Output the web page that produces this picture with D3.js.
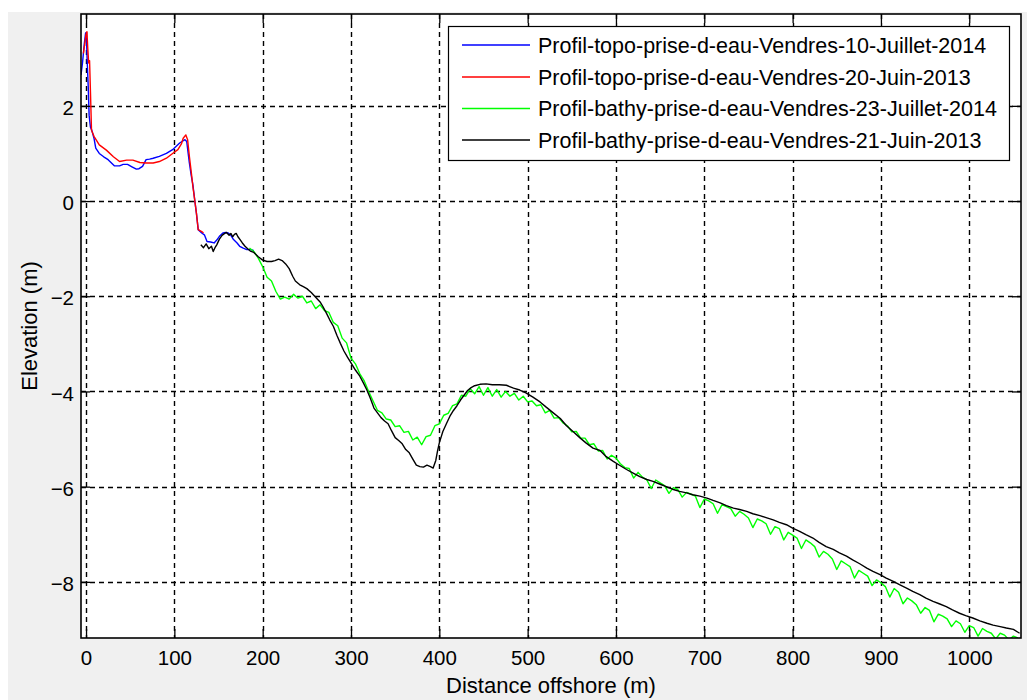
<!DOCTYPE html>
<html>
<head>
<meta charset="utf-8">
<script src="https://cdn.jsdelivr.net/npm/d3@7"></script>
<style>
  html, body { margin: 0; padding: 0; background: #ffffff; }
  svg { display: block; }
</style>
</head>
<body>
<svg id="chart" width="1027" height="700"></svg>
<script>
// ---------------- DATA ----------------
const seriesNames = [
  "Profil-topo-prise-d-eau-Vendres-10-Juillet-2014",
  "Profil-topo-prise-d-eau-Vendres-20-Juin-2013",
  "Profil-bathy-prise-d-eau-Vendres-23-Juillet-2014",
  "Profil-bathy-prise-d-eau-Vendres-21-Juin-2013"
];
const seriesColors = ["#0000ff", "#ff0000", "#00ff00", "#000000"];

const xTicks = [0, 100, 200, 300, 400, 500, 600, 700, 800, 900, 1000];
const yTicks = [2, 0, -2, -4, -6, -8];
const xLabel = "Distance offshore (m)";
const yLabel = "Elevation (m)";

// Topo 2014 (blue)
const topo2014X = [-5.7, -4, -2, -0.5, 0.5, 1.5, 2.5, 3.5, 5, 6.5, 9, 11, 15, 20, 25, 32, 38, 42, 47, 52, 57, 60, 64, 68, 72, 76, 83, 91, 98, 106, 112, 114, 117, 119, 121, 123, 125, 127, 131, 134, 137, 141, 145, 148, 151, 155, 158, 161, 164, 167, 171, 174, 178, 182, 187, 190];
const topo2014Y = [2.65, 2.9, 3.3, 3.53, 3.4, 2.85, 2.4, 1.8, 1.55, 1.49, 1.32, 1.11, 1.0, 0.93, 0.87, 0.74, 0.74, 0.77, 0.77, 0.72, 0.67, 0.68, 0.73, 0.87, 0.88, 0.9, 0.94, 1.0, 1.08, 1.22, 1.29, 1.25, 0.8, 0.55, 0.34, 0.03, -0.26, -0.6, -0.67, -0.71, -0.85, -0.86, -0.88, -0.82, -0.74, -0.67, -0.66, -0.67, -0.72, -0.81, -0.88, -0.95, -0.99, -1.02, -1.02, -1.04];

// Topo 2013 (red)
const topo2013X = [-3, -1.5, 0, 1, 2, 3, 4, 5, 6.2, 9, 15, 23, 31, 38, 46, 53, 61, 68, 76, 83, 91, 98, 104, 108, 110, 113, 115, 117, 119.5, 121, 123, 125, 127, 129, 131, 133];
const topo2013Y = [3.1, 3.3, 3.5, 3.56, 3.2, 2.9, 2.95, 2.3, 1.49, 1.36, 1.18, 1.07, 0.93, 0.83, 0.86, 0.86, 0.81, 0.80, 0.80, 0.83, 0.9, 1.0, 1.08, 1.2, 1.32, 1.39, 1.29, 0.94, 0.55, 0.3, 0.03, -0.26, -0.6, -0.62, -0.64, -0.67];

// Bathy 2014 (green) sampled every 5 m from 185 m
const bathy2014Start = 185;
const bathy2014Step = 5;
const bathy2014Y = [
  -0.99,-1.06,-1.20,-1.38,-1.60,-1.68,-1.90,-2.06,-2.02,-2.06,
  -1.96,-2.04,-2.00,-2.14,-2.10,-2.26,-2.18,-2.30,-2.34,-2.55,
  -2.62,-2.88,-2.98,-3.30,-3.42,-3.63,-3.78,-4.00,-4.20,-4.40,
  -4.45,-4.58,-4.60,-4.74,-4.72,-4.86,-4.84,-5.02,-4.96,-5.12,
  -4.95,-4.92,-4.72,-4.68,-4.50,-4.46,-4.30,-4.26,-4.08,-4.10,
  -3.94,-4.05,-3.90,-4.08,-3.92,-4.10,-3.96,-4.12,-4.00,-4.10,
  -4.04,-4.18,-4.10,-4.22,-4.20,-4.30,-4.28,-4.45,-4.40,-4.56,
  -4.55,-4.66,-4.72,-4.85,-4.84,-4.98,-4.98,-5.12,-5.10,-5.25,
  -5.24,-5.42,-5.34,-5.40,-5.52,-5.60,-5.62,-5.82,-5.70,-5.80,
  -5.86,-6.04,-5.86,-5.92,-5.98,-6.14,-6.02,-6.06,-6.22,-6.12,
  -6.16,-6.20,-6.44,-6.26,-6.30,-6.36,-6.56,-6.38,-6.42,-6.46,
  -6.62,-6.52,-6.58,-6.66,-6.86,-6.68,-6.72,-6.78,-7.00,-6.84,
  -6.88,-7.12,-6.96,-7.02,-7.08,-7.30,-7.12,-7.18,-7.26,-7.48,
  -7.36,-7.42,-7.52,-7.74,-7.56,-7.62,-7.68,-7.92,-7.76,-7.82,
  -7.88,-8.08,-7.96,-8.02,-8.10,-8.32,-8.14,-8.22,-8.46,-8.34,
  -8.40,-8.48,-8.66,-8.54,-8.60,-8.84,-8.68,-8.72,-8.78,-8.94,
  -8.82,-8.88,-9.06,-8.92,-8.96,-9.14,-8.98,-9.04,-9.08,-9.20,
  -9.08,-9.12,-9.22,-9.14,-9.18
];

// Bathy 2013 (black)
const bathy2013X = [130,133,136,139,142,144,146,148,151,154,157,159,162,164,166,168,170,172,174,177,180,183,186,190,195,200,205,210,214,218,222,226,230,234,237,242,246,250,255,260,265,268,272,276,280,284,288,292,296,300,305,310,314,318,322,326,330,334,338,342,346,350,354,358,362,366,370,374,378,382,386,390,393,396,398,400,404,408,412,416,420,424,428,432,436,440,446,453,460,468,476,484,491,498,506,514,521,529,537,544,552,559,566,574,582,589,597,604,612,620,627,635,642,650,657,665,672,680,687,695,703,710,718,725,733,740,748,755,763,770,778,785,793,800,808,815,823,830,838,846,853,861,868,876,884,891,899,906,914,921,929,936,944,951,959,966,974,981,989,996,1004,1012,1020,1027,1035,1042,1050,1057];
const bathy2013Y = [-0.92,-0.98,-0.90,-1.00,-0.95,-1.06,-0.98,-0.92,-0.80,-0.72,-0.68,-0.66,-0.72,-0.68,-0.75,-0.70,-0.68,-0.75,-0.80,-0.88,-0.95,-1.00,-1.05,-1.08,-1.17,-1.24,-1.27,-1.27,-1.25,-1.22,-1.25,-1.32,-1.42,-1.58,-1.68,-1.76,-1.80,-1.84,-1.92,-2.02,-2.12,-2.21,-2.35,-2.50,-2.63,-2.82,-2.99,-3.15,-3.28,-3.40,-3.55,-3.68,-3.82,-3.97,-4.15,-4.35,-4.45,-4.55,-4.62,-4.68,-4.83,-4.97,-5.03,-5.10,-5.22,-5.29,-5.42,-5.55,-5.58,-5.59,-5.55,-5.58,-5.61,-5.45,-5.25,-5.08,-4.84,-4.68,-4.52,-4.40,-4.30,-4.18,-4.08,-3.98,-3.92,-3.88,-3.85,-3.84,-3.86,-3.86,-3.87,-3.93,-3.97,-4.03,-4.12,-4.22,-4.33,-4.45,-4.57,-4.72,-4.85,-4.97,-5.08,-5.19,-5.24,-5.37,-5.47,-5.55,-5.64,-5.72,-5.79,-5.85,-5.89,-5.95,-6.00,-6.06,-6.10,-6.13,-6.17,-6.20,-6.24,-6.29,-6.34,-6.40,-6.45,-6.48,-6.52,-6.57,-6.61,-6.65,-6.70,-6.75,-6.80,-6.87,-6.94,-7.01,-7.08,-7.17,-7.26,-7.32,-7.39,-7.46,-7.54,-7.62,-7.71,-7.78,-7.85,-7.92,-7.99,-8.06,-8.13,-8.20,-8.27,-8.34,-8.41,-8.46,-8.52,-8.59,-8.66,-8.71,-8.76,-8.82,-8.87,-8.91,-8.94,-8.97,-9.00,-9.08];

const xDomain = [-5.7, 1058.6];
const yDomain = [-9.18, 3.93];

// ---------------- LAYOUT ----------------
const FONT = "'Liberation Sans', Arial, Helvetica, sans-serif";
const W = 1027, H = 700;
const L = 81, R = 1021, T = 14, B = 638;

const svg = d3.select("#chart");
svg.append("rect").attr("x", 0).attr("y", 0).attr("width", W).attr("height", H).attr("fill", "#ffffff");
svg.append("rect").attr("x", 8).attr("y", 12).attr("width", W - 8).attr("height", H - 12).attr("fill", "#f0f0f0");

const x = d3.scaleLinear().domain(xDomain).range([L, R]);
const y = d3.scaleLinear().domain(yDomain).range([B, T]);

svg.append("rect").attr("x", L).attr("y", T).attr("width", R - L).attr("height", B - T).attr("fill", "#ffffff");

svg.append("defs").append("clipPath").attr("id", "clip")
  .append("rect").attr("x", L).attr("y", T).attr("width", R - L).attr("height", B - T);

// grid
const grid = svg.append("g");
grid.selectAll("line.vx").data(xTicks).join("line")
  .attr("x1", d => Math.round(x(d)) + 0.5).attr("x2", d => Math.round(x(d)) + 0.5)
  .attr("y1", T).attr("y2", B)
  .attr("stroke", "#000").attr("stroke-width", 1.4).attr("stroke-dasharray", "5,4");
grid.selectAll("line.hy").data(yTicks).join("line")
  .attr("y1", d => Math.round(y(d)) + 0.5).attr("y2", d => Math.round(y(d)) + 0.5)
  .attr("x1", L).attr("x2", R)
  .attr("stroke", "#000").attr("stroke-width", 1.4).attr("stroke-dasharray", "5,4");

// data
const series = [
  topo2014X.map((v, i) => [v, topo2014Y[i]]),
  topo2013X.map((v, i) => [v, topo2013Y[i]]),
  bathy2014Y.map((v, i) => [bathy2014Start + i * bathy2014Step, v]),
  bathy2013X.map((v, i) => [v, bathy2013Y[i]])
];
const line = d3.line().x(d => x(d[0])).y(d => y(d[1]));
const dataG = svg.append("g").attr("clip-path", "url(#clip)");
series.forEach((s, i) => {
  dataG.append("path").datum(s).attr("d", line)
    .attr("fill", "none").attr("stroke", seriesColors[i])
    .attr("stroke-width", 1.4).attr("stroke-linejoin", "round");
});

// axes (ticks inward)
const TL = 9;
const axB = svg.append("g").attr("transform", `translate(0,${B})`)
  .call(d3.axisBottom(x).tickValues(xTicks).tickSize(-TL).tickPadding(12).tickFormat(d3.format("d")));
const axT = svg.append("g").attr("transform", `translate(0,${T})`)
  .call(d3.axisTop(x).tickValues(xTicks).tickSize(-TL).tickFormat(""));
const axL = svg.append("g").attr("transform", `translate(${L},0)`)
  .call(d3.axisLeft(y).tickValues(yTicks).tickSize(-TL).tickPadding(7).tickFormat(d3.format("d")));
const axR = svg.append("g").attr("transform", `translate(${R},0)`)
  .call(d3.axisRight(y).tickValues(yTicks).tickSize(-TL).tickFormat(""));
[axB, axT, axL, axR].forEach(g => {
  g.select(".domain").remove();
  g.selectAll(".tick line").attr("stroke", "#000").attr("stroke-width", 1.3);
  g.selectAll("text").attr("font-family", FONT).attr("font-size", "20.5px").attr("fill", "#000");
});
axL.selectAll("text").attr("dy", "0.42em");

// box
svg.append("rect").attr("x", L).attr("y", T).attr("width", R - L).attr("height", B - T)
  .attr("fill", "none").attr("stroke", "#000").attr("stroke-width", 1.6);

// axis labels
svg.append("text").attr("x", (L + R) / 2).attr("y", 693).attr("text-anchor", "middle")
  .attr("font-family", FONT).attr("font-size", "22px").attr("fill", "#000").text(xLabel);
svg.append("text").attr("transform", `translate(37,${(T + B) / 2}) rotate(-90)`).attr("text-anchor", "middle")
  .attr("font-family", FONT).attr("font-size", "22px").attr("fill", "#000").text(yLabel);

// legend
const lg = svg.append("g");
lg.append("rect").attr("x", 448.5).attr("y", 26.5).attr("width", 561).attr("height", 134)
  .attr("fill", "#ffffff").attr("stroke", "#000").attr("stroke-width", 1.2);
const rowsY = [45, 77, 108.5, 140];
seriesNames.forEach((n, i) => {
  lg.append("line").attr("x1", 462).attr("x2", 530).attr("y1", rowsY[i]).attr("y2", rowsY[i])
    .attr("stroke", seriesColors[i]).attr("stroke-width", 1.3);
  lg.append("text").attr("x", 538).attr("y", rowsY[i]).attr("dy", "0.36em")
    .attr("font-family", FONT).attr("font-size", "21.5px").attr("fill", "#000").text(n);
});
</script>
</body>
</html>
